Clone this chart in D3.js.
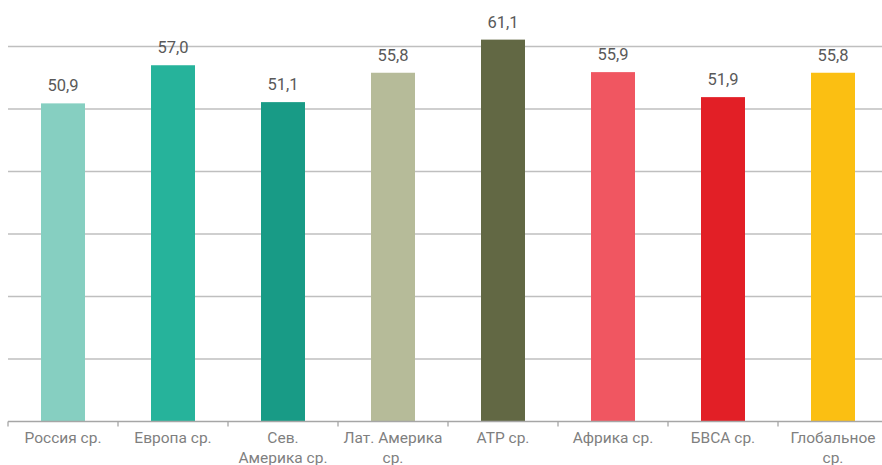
<!DOCTYPE html>
<html>
<head>
<meta charset="utf-8">
<script src="https://cdn.jsdelivr.net/npm/d3@7"></script>
<style>
  body { margin: 0; background: #fff; }
  text { font-family: Roboto, "DejaVu Sans", sans-serif; }
</style>
</head>
<body>
<div id="chart"></div>
<script>
// data
var categories = ["Россия ср.", "Европа ср.", "Сев. Америка ср.", "Лат. Америка ср.", "АТР ср.", "Африка ср.", "БВСА ср.", "Глобальное ср."];
// tick labels as they are broken into lines on the axis
var tickLabels = [["Россия ср."], ["Европа ср."], ["Сев.", "Америка ср."], ["Лат. Америка", "ср."], ["АТР ср."], ["Африка ср."], ["БВСА ср."], ["Глобальное", "ср."]];
var values = [50.9, 57.0, 51.1, 55.8, 61.1, 55.9, 51.9, 55.8];
var colors = ["#86cfc1", "#26b39b", "#189b86", "#b6bb99", "#626844", "#f05661", "#e21f26", "#fbbf12"];
var yTicks = [0, 10, 20, 30, 40, 50, 60];

var svgWidth = 882;
var svgHeight = 465;

var margin = { top: 46.5, right: -6, bottom: 43.5, left: 8 };
var width = svgWidth - margin.left - margin.right;
var height = svgHeight - margin.top - margin.bottom;

var svg = d3.select("#chart")
  .append("svg")
  .attr("width", svgWidth)
  .attr("height", svgHeight);

var chartGroup = svg.append("g")
  .attr("transform", `translate(${margin.left}, ${margin.top})`);

var xScale = d3.scaleBand()
  .domain(categories)
  .range([0, width])
  .paddingInner(0.6)
  .paddingOuter(0.3);

var yScale = d3.scaleLinear()
  .domain([0, 60])
  .range([height, 0]);

// gridlines
chartGroup.selectAll(".grid")
  .data(yTicks.filter(d => d > 0))
  .enter()
  .append("line")
  .attr("x1", 0)
  .attr("x2", width)
  .attr("y1", d => yScale(d))
  .attr("y2", d => yScale(d))
  .attr("stroke", "#bfbfbf")
  .attr("stroke-width", 1.3);

// bars
chartGroup.selectAll("rect")
  .data(values)
  .enter()
  .append("rect")
  .attr("x", (d, i) => xScale(categories[i]))
  .attr("y", d => yScale(d))
  .attr("width", xScale.bandwidth())
  .attr("height", d => height - yScale(d))
  .attr("fill", (d, i) => colors[i]);

// value labels
chartGroup.selectAll(".valueText")
  .data(values)
  .enter()
  .append("text")
  .attr("x", (d, i) => xScale(categories[i]) + xScale.bandwidth() / 2)
  .attr("y", d => yScale(d) - 12)
  .attr("text-anchor", "middle")
  .attr("font-size", "16.5px")
  .attr("fill", "#595959")
  .text(d => d.toFixed(1).replace(".", ","));

// x axis: baseline with ticks at band boundaries
var step = xScale.step();
var axisG = chartGroup.append("g")
  .attr("transform", `translate(0, ${height})`);

axisG.append("line")
  .attr("x1", 0)
  .attr("x2", width)
  .attr("y1", 0)
  .attr("y2", 0)
  .attr("stroke", "#a6a6a6")
  .attr("stroke-width", 1.3);

axisG.selectAll(".tick")
  .data(d3.range(categories.length + 1))
  .enter()
  .append("line")
  .attr("x1", i => i * step)
  .attr("x2", i => i * step)
  .attr("y1", 0)
  .attr("y2", 5)
  .attr("stroke", "#a6a6a6")
  .attr("stroke-width", 1.3);

axisG.selectAll(".catText")
  .data(categories)
  .enter()
  .append("text")
  .attr("text-anchor", "middle")
  .attr("font-size", "15.5px")
  .attr("fill", "#7f7f7f")
  .each(function(d, i) {
    var t = d3.select(this);
    var x = xScale(d) + xScale.bandwidth() / 2;
    tickLabels[i].forEach(function(line, j) {
      t.append("tspan")
        .attr("x", x)
        .attr("y", 21.5 + j * 20)
        .text(line);
    });
  });
</script>
</body>
</html>
